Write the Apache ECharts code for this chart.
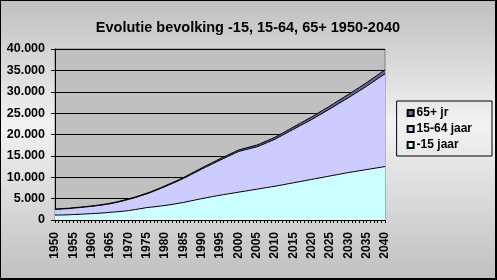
<!DOCTYPE html>
<html><head><meta charset="utf-8">
<script src="https://cdn.jsdelivr.net/npm/echarts@6/dist/echarts.min.js"></script>
<style>
html,body{margin:0;padding:0;}
#wrap{width:497px;height:280px;box-sizing:border-box;border:1px solid #000;border-right-width:2px;border-bottom-width:2px;
background:linear-gradient(to bottom,#c0c0c0 0%,#f2f2f2 45%,#c0c0c0 100%);}
#c{width:494px;height:277px;}
</style></head><body>
<div id="wrap"><div id="c"></div></div>
<script>
const years = [];
for (let y = 1950; y <= 2040; y++) years.push(String(y));

const under15 = [
1150,1160,1180,1200,1230, 1280,1310,1350,1400,1440,
1500,1540,1590,1650,1720, 1800,1860,1930,2010,2100,
2200,2330,2460,2600,2750, 2900,2980,3080,3180,3290,
3400,3530,3660,3800,3950, 4100,4280,4460,4640,4820,
5000,5160,5320,5480,5640, 5800,5940,6080,6220,6360,
6500,6640,6780,6920,7060, 7200,7340,7480,7620,7760,
7900,8060,8220,8380,8540, 8700,8860,9020,9180,9340,
9500,9660,9820,9980,10140, 10300,10460,10620,10780,10940,
11100,11240,11380,11520,11660, 11800,11940,12080,12220,12360,
12500];

const age15to64 = [
1350,1370,1400,1430,1460, 1500,1540,1580,1620,1660,
1700,1750,1810,1870,1930, 2000,2100,2220,2340,2470,
2600,2700,2820,2950,3080, 3200,3430,3670,3910,4150,
4400,4640,4880,5120,5360, 5600,5860,6120,6380,6640,
6900,7160,7420,7680,7940, 8200,8460,8720,8980,9240,
9500,9600,9680,9760,9840, 9900,10100,10320,10540,10770,
11000,11300,11600,11900,12200, 12500,12800,13100,13400,13700,
14000,14340,14680,15020,15360, 15700,16060,16420,16780,17140,
17500,17900,18300,18700,19100, 19500,19940,20380,20820,21260,
21700];

const age65plus = [
80,82,84,86,88, 90,92,94,96,98,
100,103,106,110,114, 118,122,126,130,134,
138,143,148,153,158, 163,168,173,178,184,
190,197,204,212,220, 228,236,244,252,260,
270,280,290,300,310, 320,330,340,345,350,
355,365,375,385,395, 405,415,425,435,445,
455,470,485,500,515, 530,545,560,575,590,
605,620,635,650,665, 680,695,710,725,740,
755,770,785,800,815, 830,850,870,890,910,
930];

const chart = echarts.init(document.getElementById('c'));
const font = 'Liberation Sans, Arial, sans-serif';
chart.setOption({
  animation:false,
  title:{text:'Evolutie bevolking -15, 15-64, 65+ 1950-2040',left:'center',top:14,
    textStyle:{fontFamily:font,fontSize:14.5,fontWeight:'bold',color:'#000'}},
  legend:{orient:'vertical',right:3,top:100,data:['65+ jr','15-64 jaar','-15 jaar'],
    borderColor:'#000',borderWidth:1,padding:[6,20,5,10],itemGap:4,
    itemWidth:6,itemHeight:6,icon:'rect',
    textStyle:{fontFamily:font,fontSize:12,fontWeight:'bold',color:'#000',padding:[0,0,0,-2]}},
  grid:{left:54,top:48,right:110,bottom:58,show:true,backgroundColor:'#c0c0c0',borderColor:'#808080',borderWidth:1},
  xAxis:{type:'category',data:years,boundaryGap:false,
    axisLine:{lineStyle:{color:'#000'}},
    axisTick:{interval:0,length:3,lineStyle:{color:'#000'}},
    axisLabel:{interval:4,rotate:90,fontFamily:font,fontSize:12,fontWeight:'bold',color:'#000',margin:12},
    splitLine:{show:false}},
  yAxis:{type:'value',min:0,max:40000,interval:5000,
    axisLine:{show:true,lineStyle:{color:'#000'}},
    axisTick:{show:true,length:4,lineStyle:{color:'#000'}},
    axisLabel:{fontFamily:font,fontSize:12.5,fontWeight:'bold',color:'#000',margin:10,
      formatter:v=>v===0?'0':(v/1000)+'.000'},
    splitLine:{lineStyle:{color:'#000',width:1}}},
  series:[
    {name:'-15 jaar',type:'line',stack:'t',data:under15,symbol:'none',
      lineStyle:{color:'#000',width:1},itemStyle:{color:'#ccffff',borderColor:'#000',borderWidth:1},
      areaStyle:{color:'#ccffff',opacity:1}},
    {name:'15-64 jaar',type:'line',stack:'t',data:age15to64,symbol:'none',
      lineStyle:{color:'#000',width:1},itemStyle:{color:'#ccccff',borderColor:'#000',borderWidth:1},
      areaStyle:{color:'#ccccff',opacity:1}},
    {name:'65+ jr',type:'line',stack:'t',data:age65plus,symbol:'none',
      lineStyle:{color:'#000',width:1},itemStyle:{color:'#666699',borderColor:'#000',borderWidth:1},
      areaStyle:{color:'#666699',opacity:1}}
  ]
});
</script></body></html>
